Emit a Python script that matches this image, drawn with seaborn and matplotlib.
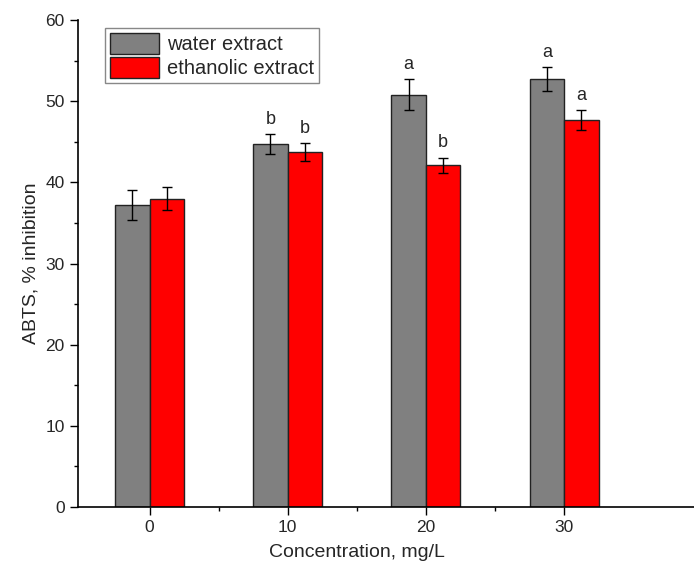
import pandas as pd
import seaborn as sns
import matplotlib.pyplot as plt

concentration = [0, 10, 20, 30]
water_mean = [37.2, 44.7, 50.8, 52.7]
water_sd = [1.8, 1.2, 1.9, 1.5]
ethanol_mean = [38.0, 43.7, 42.1, 47.7]
ethanol_sd = [1.4, 1.1, 0.9, 1.2]
water_letters = ['', 'b', 'a', 'a']
ethanol_letters = ['', 'b', 'b', 'a']
series = ['water extract', 'ethanolic extract']

df = pd.DataFrame({
    'conc': concentration * 2,
    'value': water_mean + ethanol_mean,
    'sd': water_sd + ethanol_sd,
    'letter': water_letters + ethanol_letters,
    'extract': [series[0]] * 4 + [series[1]] * 4,
})

sns.set_style('ticks')
plt.rcParams['font.family'] = ['Liberation Sans', 'DejaVu Sans']

fig = plt.figure(figsize=(6.94, 5.71), dpi=100)
ax = fig.add_axes([0.112, 0.112, 0.888, 0.853])

sns.barplot(data=df, x='conc', y='value', hue='extract', hue_order=series,
            palette=['#808080', '#ff0000'], native_scale=True, width=0.5,
            errorbar=None, edgecolor='#222222', linewidth=1, saturation=1,
            ax=ax)

# error bars and letters on top of each bar, in the order seaborn drew them
bars = [p for p in ax.patches if p.get_height() > 0]
for k, name in enumerate(series):
    sub = df[df['extract'] == name].reset_index(drop=True)
    group = sorted(bars[k * 4:(k + 1) * 4], key=lambda p: p.get_x())
    for p, (_, row) in zip(group, sub.iterrows()):
        cx = p.get_x() + p.get_width() / 2
        ax.errorbar(cx, row['value'], yerr=row['sd'], color='black',
                    capsize=3.5, elinewidth=1, capthick=1)
        if row['letter']:
            ax.text(cx, row['value'] + row['sd'] + 0.8, row['letter'],
                    ha='center', va='bottom', fontsize=13)

ax.set_xlim(-5.2, 39.4)
ax.set_ylim(0, 60)
ax.set_xticks([0, 10, 20, 30])
ax.set_xticks([5, 15, 25], minor=True)
ax.set_yticks(range(0, 61, 10))
ax.set_yticks(range(5, 60, 10), minor=True)
ax.tick_params(axis='both', which='major', direction='out', length=6,
               width=1, labelsize=12.5, color='black')
ax.tick_params(axis='both', which='minor', direction='out', length=3,
               width=1, color='black')
for s in ['top', 'right']:
    ax.spines[s].set_visible(False)
for s in ['left', 'bottom']:
    ax.spines[s].set_linewidth(1.2)
    ax.spines[s].set_color('black')

ax.set_xlabel('Concentration, mg/L', fontsize=14)
ax.set_ylabel('ABTS, % inhibition', fontsize=14, labelpad=4)
ax.xaxis.set_label_coords(0.453, -0.075)

leg = ax.legend(loc='upper left', bbox_to_anchor=(0.044, 0.984),
                borderaxespad=0, fontsize=14.5, fancybox=False,
                edgecolor='#888888', framealpha=1, handlelength=2.45,
                handleheight=1.25, labelspacing=0.12, handletextpad=0.4,
                borderpad=0.25)
leg.get_frame().set_linewidth(1)

fig.savefig('out.png', dpi=100)
